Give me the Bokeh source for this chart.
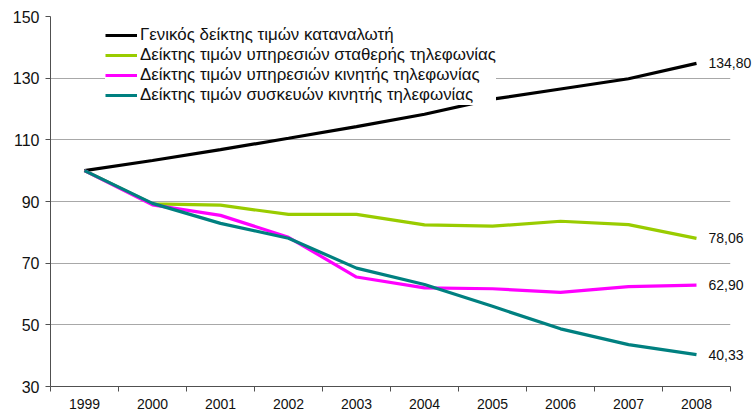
from bokeh.plotting import figure
from bokeh.models import Range1d, FixedTicker, Legend, LegendItem, ColumnDataSource
from bokeh.embed import file_html
from bokeh.resources import INLINE

years = ["1999", "2000", "2001", "2002", "2003", "2004", "2005", "2006", "2007", "2008"]
cpi = [100, 103.3, 106.8, 110.5, 114.3, 118.3, 123.2, 126.5, 129.8, 134.80]
fixed = [100, 89.2, 88.8, 85.8, 85.8, 82.4, 82.0, 83.6, 82.5, 78.06]
mobile_srv = [100, 88.9, 85.5, 78.4, 65.5, 62.0, 61.7, 60.5, 62.4, 62.90]
handsets = [100, 89.4, 82.9, 78.1, 68.4, 63.1, 56.0, 48.7, 43.6, 40.33]
names = ["Γενικός δείκτης τιμών καταναλωτή",
         "Δείκτης τιμών υπηρεσιών σταθερής τηλεφωνίας",
         "Δείκτης τιμών υπηρεσιών κινητής τηλεφωνίας",
         "Δείκτης τιμών συσκευών κινητής τηλεφωνίας"]
end_labels = ["134,80", "78,06", "62,90", "40,33"]
y_ticks = [30, 50, 70, 90, 110, 130, 150]
colors = ["#000000", "#99CC00", "#FF00FF", "#008080"]
series = [cpi, fixed, mobile_srv, handsets]

FONT = "Liberation Sans"
xs = [i + 0.5 for i in range(len(years))]

p = figure(width=752, height=411, output_backend="svg", toolbar_location=None,
           x_range=Range1d(0, len(years)), y_range=Range1d(30, 150),
           frame_width=680, frame_height=370,
           min_border_left=50, min_border_right=22, min_border_top=16, min_border_bottom=5)
p.outline_line_color = None
p.background_fill_color = "white"
p.border_fill_color = "white"

# axes
p.xaxis.ticker = FixedTicker(ticks=xs, minor_ticks=list(range(len(years) + 1)))
p.xaxis.major_label_overrides = {x: y for x, y in zip(xs, years)}
p.xaxis.major_tick_out = 0
p.xaxis.major_tick_in = 0
p.xaxis.minor_tick_out = 5
p.xaxis.minor_tick_in = 0
p.xaxis.major_label_standoff = 7
p.xaxis.major_label_text_font = FONT
p.xaxis.major_label_text_font_size = "14px"
p.xaxis.major_label_text_color = "#111111"
p.xaxis.axis_line_color = "#505050"
p.xaxis.minor_tick_line_color = "#505050"

p.yaxis.ticker = FixedTicker(ticks=y_ticks, minor_ticks=[])
p.yaxis.major_tick_out = 5
p.yaxis.major_tick_in = 0
p.yaxis.major_label_standoff = 6
p.yaxis.major_label_text_font = FONT
p.yaxis.major_label_text_font_size = "16px"
p.yaxis.major_label_text_color = "#111111"
p.yaxis.axis_line_color = "#505050"
p.yaxis.major_tick_line_color = "#505050"

p.xgrid.visible = False
p.ygrid.ticker = FixedTicker(ticks=y_ticks[1:])
p.ygrid.grid_line_color = "#a8a8a8"
p.ygrid.grid_line_width = 1

items = []
for name, vals, col, lab in zip(names, series, colors, end_labels):
    src = ColumnDataSource(dict(x=xs, y=vals))
    r = p.line("x", "y", source=src, line_color=col, line_width=3.2, level="overlay")
    items.append(LegendItem(label=name, renderers=[r]))
    lsrc = ColumnDataSource(dict(x=[xs[-1]], y=[vals[-1]], t=[lab]))
    p.text("x", "y", text="t", source=lsrc, x_offset=12, text_baseline="middle",
           text_align="left", text_font_size="14px", text_color="#111111",
           text_font={"value": FONT}, level="overlay")

legend = Legend(items=items, location=(55, 281), padding=15, spacing=0,
                label_height=18, glyph_height=18, glyph_width=32, label_standoff=3,
                label_text_font=FONT, label_text_font_size="16.9px", label_text_color="#111111",
                background_fill_color="white", background_fill_alpha=1.0,
                border_line_color=None)
p.add_layout(legend, "center")

open("out.html", "w").write(file_html(p, INLINE))
